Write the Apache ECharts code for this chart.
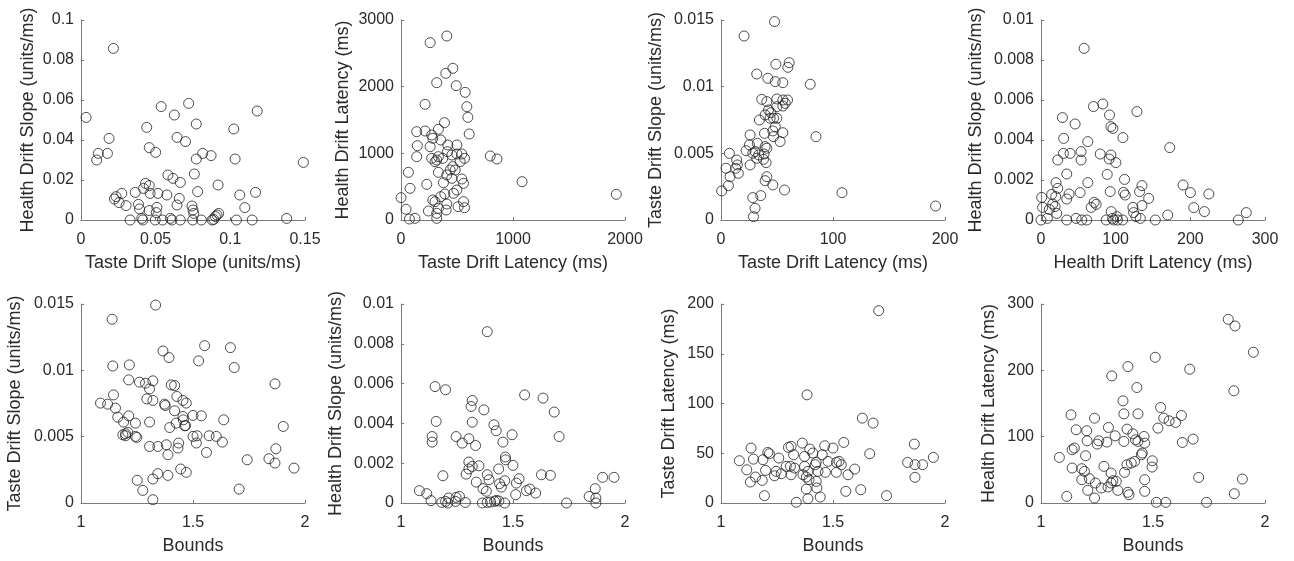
<!DOCTYPE html>
<html><head><meta charset="utf-8">
<script src="https://cdn.jsdelivr.net/npm/echarts@6/dist/echarts.min.js"></script>
<style>html,body{margin:0;padding:0;background:#fff}#c{width:1294px;height:561px}</style>
</head><body><div id="c"></div>
<script>
// Panel 1: Taste Drift Slope vs Health Drift Slope
const p1x = [0.0217,0.0034,0.0105,0.0116,0.0177,0.0188,0.044,0.0457,0.050,0.0537,0.0625,0.0643,0.070,0.0721,0.0772,0.0772,0.0815,0.0871,0.0759,0.0918,0.1023,0.1032,0.118,0.1489,0.1063,0.1097,0.1169,0.1377,0.1146,0.1041,0.0582,0.0616,0.0665,0.0781,0.0575,0.0658,0.0643,0.0515,0.0463,0.0432,0.0457,0.0419,0.0363,0.0273,0.0224,0.0235,0.0255,0.0302,0.0385,0.0392,0.0457,0.0508,0.0504,0.0743,0.075,0.0755,0.0911,0.0922,0.09,0.0889,0.0329,0.0407,0.0414,0.0497,0.0546,0.0598,0.0609,0.0665,0.0748,0.0806,0.0878];
const p1y = [0.0858,0.0513,0.030,0.0333,0.0333,0.0408,0.0463,0.0362,0.0338,0.0567,0.0525,0.0413,0.0392,0.0583,0.048,0.0305,0.0333,0.0322,0.023,0.0175,0.0455,0.0305,0.0545,0.0288,0.0125,0.0062,0.0138,0.0008,0,0,0.0225,0.0208,0.0188,0.0142,0.0125,0.0108,0.0075,0.0133,0.0133,0.0183,0.0172,0.0158,0.0138,0.0133,0.0105,0.0117,0.0087,0.0072,0.0078,0.0055,0.0047,0.0063,0.0037,0.007,0.005,0.0033,0.0025,0.0033,0.0017,0.0003,0,0.0008,0,0,0,0.0008,0,0,0,0,0];
// Panel 2: Taste Drift Latency vs Health Drift Latency
const p2x = [409,260,463,400,319,493,573,215,588,597,609,388,140,215,334,274,284,355,146,260,140,418,499,415,454,499,543,567,274,304,334,373,797,857,463,484,409,334,66,230,379,454,543,558,499,469,391,355,284,304,409,510,567,334,403,319,245,81,0,45,75,125,319,1081,1922,319,528,439,558];
const p2y = [2760,2660,2275,2200,2060,2015,1915,1735,1700,1540,1290,1460,1325,1335,1360,1275,1225,1200,1115,1100,950,1125,1125,1025,975,990,990,925,925,875,950,925,960,915,800,750,675,715,715,535,560,625,615,550,450,400,390,350,300,275,240,200,185,175,150,100,135,475,335,160,15,25,25,575,385,900,875,750,275];
// Panel 3: Taste Drift Latency vs Taste Drift Slope
const p3x = [47.8,20.6,49,60.9,59.7,31.9,41.8,48.4,55.2,79.7,36.4,40.9,49.9,55.2,59.4,57.3,55.2,42.4,39.4,43.9,34.3,46.9,49.9,48.4,46.3,38.8,55.2,46.9,52.8,84.8,26,25.4,32.5,39.4,40.9,22.4,28.4,30.4,33.7,38.5,31.9,37.9,40.3,26,7.5,14,14.6,13.1,15.5,4.5,8.1,40.9,39.4,46.3,56.7,6.6,0.6,108,191.6,35.5,28.4,30.4,29,49.9,44.5];
const p3y = [0.01488,0.0138,0.01168,0.0118,0.01145,0.01095,0.01063,0.01038,0.0103,0.01018,0.00905,0.00888,0.00908,0.009,0.009,0.00875,0.00855,0.00825,0.00788,0.00763,0.0075,0.00763,0.00763,0.007,0.00668,0.0065,0.00655,0.00625,0.00588,0.00625,0.00638,0.00563,0.00575,0.0055,0.00538,0.0052,0.005,0.00513,0.00488,0.00495,0.00463,0.00455,0.0043,0.00413,0.005,0.0045,0.00413,0.00388,0.0035,0.00388,0.00325,0.00325,0.00295,0.00263,0.00225,0.00258,0.00218,0.00205,0.00105,0.00183,0.00168,0.00088,0.00025,0.0085,0.00805];
// Panel 4: Health Drift Latency vs Health Drift Slope
const p4x = [57.8,82.8,70.3,128.5,28.7,91.8,45.7,93.6,96.3,30.4,109.7,62.7,172.4,30,39,53.7,79.3,93.6,22.4,53.7,91.3,100.3,34.5,88.7,111.9,20.1,62.7,135.2,190.3,22.4,200.1,224.8,0.9,14.3,19.7,37.6,52.4,92.7,110.6,112.8,132,144.2,34.5,71.2,73.9,67.2,123.1,135.2,204.6,218.9,2.2,11.2,15.7,18.8,21,94,124,127.2,133,169.7,274.9,264.2,0,8.5,34.5,47,54.6,61.3,87.3,95.8,97.2,102.5,109.3,153.1,101.6];
const p4y = [0.00858,0.0058,0.00567,0.00542,0.00512,0.00525,0.0048,0.00467,0.00458,0.00408,0.00412,0.00392,0.00362,0.00333,0.00333,0.00342,0.0033,0.00325,0.003,0.003,0.00305,0.00287,0.0023,0.00228,0.00203,0.00187,0.00187,0.00172,0.00175,0.00158,0.00137,0.0013,0.00113,0.00128,0.00117,0.0013,0.00137,0.00142,0.00138,0.00125,0.00142,0.00108,0.00105,0.00088,0.00078,0.00063,0.00063,0.00072,0.00062,0.00042,0.00063,0.00053,0.0008,0.00067,0.00033,0.00042,0.00037,0.00017,0.00008,0.00025,0.00037,0,0,0.00008,0,0.00008,0,0,0,0.00008,0,0,0,0,0.00017];
// Panel 5: Bounds vs Taste Drift Slope
const p5x = [1.333,1.139,1.366,1.393,1.552,1.667,1.525,1.684,1.142,1.216,1.866,1.213,1.261,1.288,1.321,1.306,1.403,1.418,1.145,1.294,1.321,1.428,1.455,1.47,1.087,1.119,1.154,1.373,1.376,1.418,1.164,1.213,1.5,1.537,1.455,1.457,1.637,1.19,1.243,1.306,1.425,1.463,1.396,1.467,1.903,1.187,1.199,1.209,1.199,1.243,1.249,1.5,1.518,1.572,1.604,1.631,1.515,1.306,1.343,1.381,1.436,1.433,1.388,1.56,1.870,1.839,1.866,1.742,1.951,1.445,1.47,1.343,1.388,1.321,1.251,1.276,1.706,1.321];
const p5y = [0.01492,0.01385,0.01146,0.01096,0.01186,0.01171,0.01071,0.01021,0.01033,0.01041,0.00898,0.00928,0.00911,0.00903,0.00921,0.0086,0.0089,0.00885,0.00815,0.00785,0.00773,0.00803,0.00773,0.00753,0.00753,0.00745,0.00715,0.00745,0.00735,0.00695,0.00647,0.00657,0.0066,0.00657,0.00652,0.00627,0.00627,0.0061,0.00602,0.0061,0.00602,0.00582,0.00569,0.00584,0.00577,0.00514,0.00522,0.00532,0.00507,0.00502,0.00494,0.00502,0.00507,0.00507,0.00502,0.00459,0.00452,0.00426,0.00426,0.00439,0.00452,0.00414,0.00364,0.00381,0.00409,0.00334,0.00301,0.00326,0.00263,0.00256,0.00231,0.00221,0.00208,0.00181,0.00171,0.00095,0.00105,0.00025];
// Panel 6: Bounds vs Health Drift Slope
const p6x = [1.385,1.152,1.199,1.552,1.634,1.318,1.313,1.37,1.684,1.157,1.318,1.415,1.425,1.139,1.246,1.303,1.496,1.706,1.139,1.273,1.333,1.455,1.466,1.467,1.303,1.318,1.348,1.5,1.436,1.303,1.291,1.187,1.385,1.393,1.627,1.667,1.527,1.515,1.9,1.951,1.336,1.463,1.448,1.44,1.366,1.381,1.56,1.575,1.601,1.512,1.082,1.115,1.134,1.182,1.199,1.209,1.213,1.243,1.246,1.261,1.287,1.363,1.385,1.4,1.418,1.425,1.437,1.463,1.739,1.84,1.867,1.87,1.87];
const p6y = [0.00861,0.00585,0.00569,0.00543,0.00527,0.00515,0.00485,0.00468,0.00457,0.0041,0.00406,0.00393,0.00363,0.00334,0.00334,0.00323,0.00343,0.00334,0.00306,0.00301,0.00289,0.00306,0.00231,0.00217,0.00206,0.00184,0.00187,0.00189,0.00171,0.00171,0.00145,0.00137,0.00142,0.00117,0.00142,0.00139,0.00122,0.001,0.00129,0.00129,0.00105,0.00112,0.0008,0.00097,0.00072,0.00059,0.00062,0.0007,0.0005,0.00042,0.00062,0.00047,0.00012,0.00003,0.00008,0,0.00025,0.00008,0.00028,0.00033,0.00003,0,0.00003,0.00005,0.00008,0.00013,0.0001,0,0,0.00033,0.00072,0.00025,0];
// Panel 7: Bounds vs Taste Drift Latency
const p7x = [1.704,1.384,1.631,1.679,1.863,1.664,1.548,1.363,1.463,1.5,1.396,1.134,1.301,1.313,1.209,1.216,1.082,1.145,1.187,1.258,1.324,1.373,1.41,1.452,1.425,1.421,1.478,1.515,1.527,1.537,1.833,1.866,1.9,1.948,1.115,1.199,1.246,1.291,1.31,1.328,1.373,1.388,1.433,1.466,1.515,1.597,1.567,1.239,1.269,1.313,1.366,1.381,1.393,1.154,1.131,1.184,1.425,1.866,1.381,1.428,1.557,1.624,1.194,1.388,1.443,1.739,1.336];
const p7y = [193.3,108.7,85.3,80.3,59.2,49.5,60.9,60.2,57.5,55.2,54.2,55.2,55.9,56.9,50.8,49.5,42.5,44.1,43.5,45.2,48.5,46.8,50.2,48.5,40.8,38.5,41.8,40.8,41.8,38.5,40.8,38.5,38.5,45.8,33.4,32.8,31.8,36.8,36.8,35.1,36.8,31.8,31.8,30.8,30.8,34.1,28.4,27.4,29.4,28.4,28.4,26.1,23.4,26.1,21.1,22.7,21.7,25.8,14,15.1,11.7,13.4,7.4,4.3,6,7.4,0.7];
// Panel 8: Bounds vs Health Drift Latency
const p8x = [1.836,1.866,1.948,1.51,1.388,1.664,1.316,1.428,1.861,1.366,1.534,1.134,1.37,1.433,1.627,1.239,1.548,1.572,1.601,1.522,1.301,1.384,1.157,1.204,1.41,1.331,1.46,1.679,1.206,1.258,1.294,1.37,1.422,1.433,1.251,1.463,1.631,1.149,1.139,1.082,1.199,1.448,1.497,1.418,1.403,1.384,1.452,1.139,1.182,1.194,1.281,1.496,1.373,1.313,1.463,1.704,1.899,1.182,1.216,1.243,1.313,1.321,1.336,1.269,1.299,1.209,1.343,1.463,1.388,1.393,1.115,1.239,1.863,1.515,1.557,1.739];
const p8y = [276.9,266.9,227.3,219.7,205.7,201.7,191.6,174.1,169.1,154,144,132.9,134.4,134.4,131.9,127.9,127.9,123.9,121.4,112.9,113.9,111.4,110.4,108.9,104.3,101.3,100.3,96.3,93.8,93.8,91.8,92.8,95.3,92.8,88.8,90.3,91.3,82.8,80.3,68.7,71.2,72.7,63.7,62.7,60.2,57.7,75.3,52.7,51.7,47.7,55.2,54.2,46.2,45.2,35.1,38.6,36.1,35.1,36.6,30.1,30.1,33.6,32.6,22.6,24.1,19.1,19.1,17.6,16.1,12.5,10,7.5,14,1,1,1];

const xNames = ['Taste Drift Slope (units/ms)','Taste Drift Latency (ms)','Taste Drift Latency (ms)','Health Drift Latency (ms)','Bounds','Bounds','Bounds','Bounds'];
const yNames = ['Health Drift Slope (units/ms)','Health Drift Latency (ms)','Taste Drift Slope (units/ms)','Health Drift Slope (units/ms)','Taste Drift Slope (units/ms)','Health Drift Slope (units/ms)','Taste Drift Latency (ms)','Health Drift Latency (ms)'];
const xMin = [0,0,0,0,1,1,1,1];
const xMax = [0.15,2000,200,300,2,2,2,2];
const xInt = [0.05,1000,100,100,0.5,0.5,0.5,0.5];
const yMax = [0.1,3000,0.015,0.01,0.015,0.01,200,300];
const yInt = [0.02,1000,0.005,0.002,0.005,0.002,50,100];

const XS = [p1x,p2x,p3x,p4x,p5x,p6x,p7x,p8x];
const YS = [p1y,p2y,p3y,p4y,p5y,p6y,p7y,p8y];

const lefts = [81,401,721,1041];
const tops = [20,304];
const yGaps = [44,49,56,56,57,56,43,43];
const font = 'Liberation Sans, Arial, Helvetica, sans-serif';
const axisCol = '#7a7a7a';
const txtCol = '#2b2b2b';
const fmt = v => String(+(+v).toFixed(6));

const grids=[], xAxes=[], yAxes=[], series=[];
for (let i=0;i<8;i++){
  const r = Math.floor(i/4), c = i%4;
  grids.push({left:lefts[c], top:tops[r], width:224, height:r===0?200:199});
  const common = {
    gridIndex:i, type:'value', splitLine:{show:false},
    axisLine:{show:true,onZero:false,lineStyle:{color:axisCol,width:1}},
    axisTick:{show:true,inside:true,length:3,lineStyle:{color:axisCol}},
    nameLocation:'middle',
    nameTextStyle:{fontFamily:font,fontSize:18,color:txtCol},
  };
  xAxes.push(Object.assign({}, common, {
    min:xMin[i], max:xMax[i], interval:xInt[i], name:xNames[i], nameGap:34,
    axisLabel:{fontFamily:font,fontSize:16,color:txtCol,margin:12,formatter:fmt,showMaxLabel:true,showMinLabel:true}
  }));
  yAxes.push(Object.assign({}, common, {
    min:0, max:yMax[i], interval:yInt[i], name:yNames[i], nameGap:yGaps[i],
    axisLabel:{fontFamily:font,fontSize:16,color:txtCol,margin:7,formatter:fmt,showMaxLabel:true,showMinLabel:true}
  }));
  series.push({
    type:'scatter', xAxisIndex:i, yAxisIndex:i, clip:false,
    symbol:'circle', symbolSize:10,
    itemStyle:{color:'rgba(0,0,0,0)',borderColor:'#222',borderWidth:1},
    emphasis:{disabled:true},
    data: XS[i].map((x,k)=>[x, YS[i][k]])
  });
}

const chart = echarts.init(document.getElementById('c'), null, {renderer:'canvas'});
chart.setOption({
  animation:false,
  backgroundColor:'#fff',
  textStyle:{fontFamily:font},
  grid:grids, xAxis:xAxes, yAxis:yAxes, series:series
});
</script>
</body></html>
